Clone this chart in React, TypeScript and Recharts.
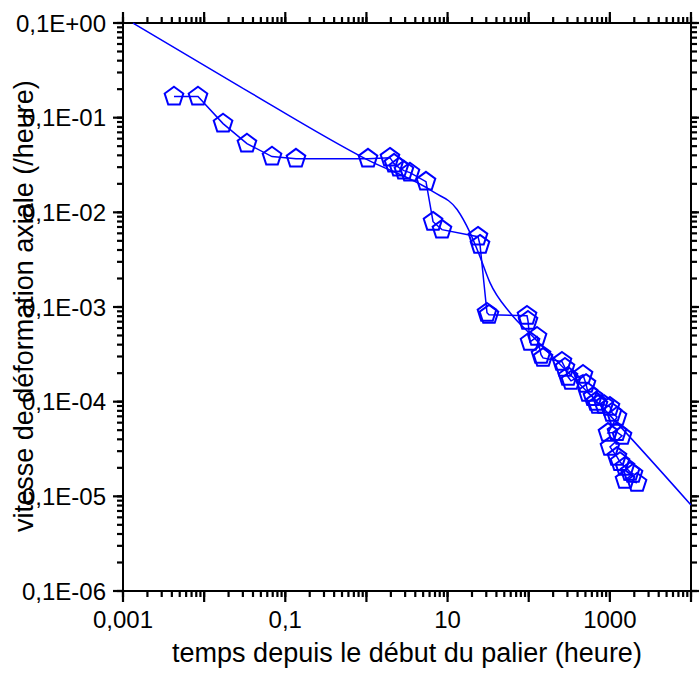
import React from "react"
import { ComposedChart, Line, ReferenceLine, Scatter, XAxis, YAxis } from "recharts"

const FONT = '"Liberation Sans", Arial, sans-serif'
const BLUE = "#0000ff"

// fitted curve: time (heure) / rate (/heure)
const curveTime = [0.00133, 0.0277, 1.02, 6.62, 13.1, 18.9, 25.1, 33.4, 58.9, 113, 757, 10000]
const curveRate = [0.0999, 0.0213, 0.0036, 0.00165, 0.00107, 6.1e-4, 3.4e-4, 1.8e-4, 8.7e-5, 4.84e-5, 9.25e-6, 8.1e-7]

// measured points
const pointTime = [
  0.00425, 0.0084, 0.0171, 0.0337, 0.0686, 0.1355, 1.046, 1.95, 2.19, 2.52, 2.9, 3.44, 5.42, 6.62, 8.53,
  23.7, 25.1, 30.6, 32.4, 95.3, 98, 103.8, 126.6, 141.8, 150, 257, 280, 305, 332, 467, 508, 538, 620, 675,
  714, 847, 1004, 1063, 1225, 949, 1225, 1413, 1004, 1225, 1334, 1538, 1773, 1930, 1538, 2161,
]
const pointRate = [
  0.0167, 0.0167, 0.00866, 0.00532, 0.00388, 0.00369, 0.00369, 0.00378, 0.00327, 0.00297, 0.00276, 0.00263,
  0.00211, 7.96e-4, 6.56e-4, 5.53e-4, 4.55e-4, 8.69e-5, 8.28e-5, 8.08e-5, 7.15e-5, 4.29e-5, 4.84e-5, 3.13e-5,
  2.9e-5, 2.64e-5, 2.28e-5, 1.83e-5, 1.66e-5, 1.92e-5, 1.54e-5, 1.24e-5, 1.12e-5, 9.95e-6, 9.25e-6, 9.25e-6,
  8.81e-6, 7.62e-6, 6.91e-6, 4.68e-6, 4.76e-6, 4.35e-6, 3.33e-6, 2.61e-6, 2.3e-6, 2.05e-6, 1.81e-6, 1.73e-6,
  1.49e-6, 1.39e-6,
]

const xLabelTicks = [0.001, 0.1, 10, 1000]
const xLabelText = ["0,001", "0,1", "10", "1000"]
const yLabelTicks = [1e-7, 1e-6, 1e-5, 1e-4, 1e-3, 1e-2, 0.1]
const yLabelText = ["0,1E-06", "0,1E-05", "0,1E-04", "0,1E-03", "0,1E-02", "0,1E-01", "0,1E+00"]

const X_MIN = 0.001
const X_MAX = 10000
const Y_MIN = 1e-7
const Y_MAX = 0.1

function logTicks(from: number, to: number) {
  const out: number[] = []
  for (let d = from; d < to; d++) {
    for (let m = 1; m <= 9; m++) out.push(Number((m * Math.pow(10, d)).toPrecision(3)))
  }
  out.push(Number(Math.pow(10, to).toPrecision(3)))
  return out
}

const isDecade = (v: number) => Math.abs(Math.log10(v) - Math.round(Math.log10(v))) < 1e-6

const xTicks = logTicks(-3, 4)
const yTicks = logTicks(-7, -1)
const xDecades = xTicks.filter(isDecade)
const yDecades = yTicks.filter(isDecade)

const findLabel = (v: number, ticks: number[], text: string[]) => {
  const i = ticks.findIndex((t) => Math.abs(Math.log10(t) - Math.log10(v)) < 1e-6)
  return i >= 0 ? text[i] : ""
}

// outward tick mark on the frame, placed by the chart scales
function TickMark(props: any) {
  const { cx, cy, side, len } = props
  if (cx == null || cy == null) return <g />
  let d = `M${cx},${cy}v${len}`
  if (side === "top") d = `M${cx},${cy}v${-len}`
  if (side === "left") d = `M${cx},${cy}h${-len}`
  if (side === "right") d = `M${cx},${cy}h${len}`
  return <path d={d} stroke="#000000" strokeWidth={2.2} fill="none" />
}

function Pentagon(props: any) {
  const { cx, cy } = props
  if (cx == null || cy == null) return <g />
  const r = 9.8
  const pts = [0, 1, 2, 3, 4]
    .map((i) => {
      const a = -Math.PI / 2 + (i * 2 * Math.PI) / 5
      return `${cx + r * Math.cos(a)},${cy + r * Math.sin(a)}`
    })
    .join(" ")
  return <polygon points={pts} fill="none" stroke={BLUE} strokeWidth={2} />
}

const axisLine = { stroke: "#000000", strokeWidth: 2 }
const tickLine = { stroke: "#000000", strokeWidth: 2.2 }
const tickFont = { fontSize: 24, fontFamily: FONT, fill: "#000" }

export default function App() {
  const curve = curveTime.map((x, i) => ({ x, y: curveRate[i] }))
  const points = pointTime.map((x, i) => ({ x, y: pointRate[i] }))

  const bottomMajor = xDecades.map((x) => ({ x, y: Y_MIN }))
  const topMinor = xTicks.map((x) => ({ x, y: Y_MAX }))
  const topMajor = xDecades.map((x) => ({ x, y: Y_MAX }))
  const leftMajor = yDecades.map((y) => ({ x: X_MIN, y }))
  const rightMinor = yTicks.map((y) => ({ x: X_MAX, y }))
  const rightMajor = yDecades.map((y) => ({ x: X_MAX, y }))

  return (
    <div style={{ position: "absolute", left: 0, top: 0, width: 699, height: 673, background: "#fff" }}>
      <ComposedChart width={699} height={673} margin={{ top: 23, right: 8, bottom: 0, left: 0 }}>
        <XAxis
          type="number"
          dataKey="x"
          scale="log"
          domain={[X_MIN, X_MAX]}
          ticks={xTicks}
          interval={0}
          height={82}
          tickSize={6}
          tickMargin={14}
          tickLine={tickLine}
          axisLine={axisLine}
          tick={tickFont}
          tickFormatter={(v: number) => findLabel(v, xLabelTicks, xLabelText)}
        />
        <YAxis
          type="number"
          dataKey="y"
          scale="log"
          domain={[Y_MIN, Y_MAX]}
          ticks={yTicks}
          interval={0}
          width={123}
          tickSize={6}
          tickMargin={11}
          tickLine={tickLine}
          axisLine={axisLine}
          tick={tickFont}
          tickFormatter={(v: number) => findLabel(v, yLabelTicks, yLabelText)}
        />
        <ReferenceLine y={Y_MAX} stroke="#000000" strokeWidth={2} ifOverflow="visible" />
        <ReferenceLine x={X_MAX} stroke="#000000" strokeWidth={2} ifOverflow="visible" />
        <Scatter data={bottomMajor} dataKey="y" isAnimationActive={false} shape={(p: any) => <TickMark {...p} side="bottom" len={11} />} />
        <Scatter data={topMinor} dataKey="y" isAnimationActive={false} shape={(p: any) => <TickMark {...p} side="top" len={6} />} />
        <Scatter data={topMajor} dataKey="y" isAnimationActive={false} shape={(p: any) => <TickMark {...p} side="top" len={11} />} />
        <Scatter data={leftMajor} dataKey="y" isAnimationActive={false} shape={(p: any) => <TickMark {...p} side="left" len={10} />} />
        <Scatter data={rightMinor} dataKey="y" isAnimationActive={false} shape={(p: any) => <TickMark {...p} side="right" len={6} />} />
        <Scatter data={rightMajor} dataKey="y" isAnimationActive={false} shape={(p: any) => <TickMark {...p} side="right" len={8} />} />
        <Line
          data={curve}
          dataKey="y"
          type="monotone"
          stroke={BLUE}
          strokeWidth={1.5}
          dot={false}
          isAnimationActive={false}
        />
        <Line
          data={points}
          dataKey="y"
          type="linear"
          stroke={BLUE}
          strokeWidth={1.5}
          dot={(p: any) => <Pentagon key={`p-${p.index}`} {...p} />}
          isAnimationActive={false}
        />
      </ComposedChart>
      <svg
        width={699}
        height={673}
        style={{ position: "absolute", left: 0, top: 0, pointerEvents: "none" }}
      >
        <text x={407} y={662} textAnchor="middle" fontSize={27} fontFamily={FONT} fill="#000">
          temps depuis le début du palier (heure)
        </text>
        <text
          transform="translate(33,306) rotate(-90)"
          textAnchor="middle"
          fontSize={27}
          fontFamily={FONT}
          fill="#000"
        >
          vitesse de déformation axiale (/heure)
        </text>
      </svg>
    </div>
  )
}
